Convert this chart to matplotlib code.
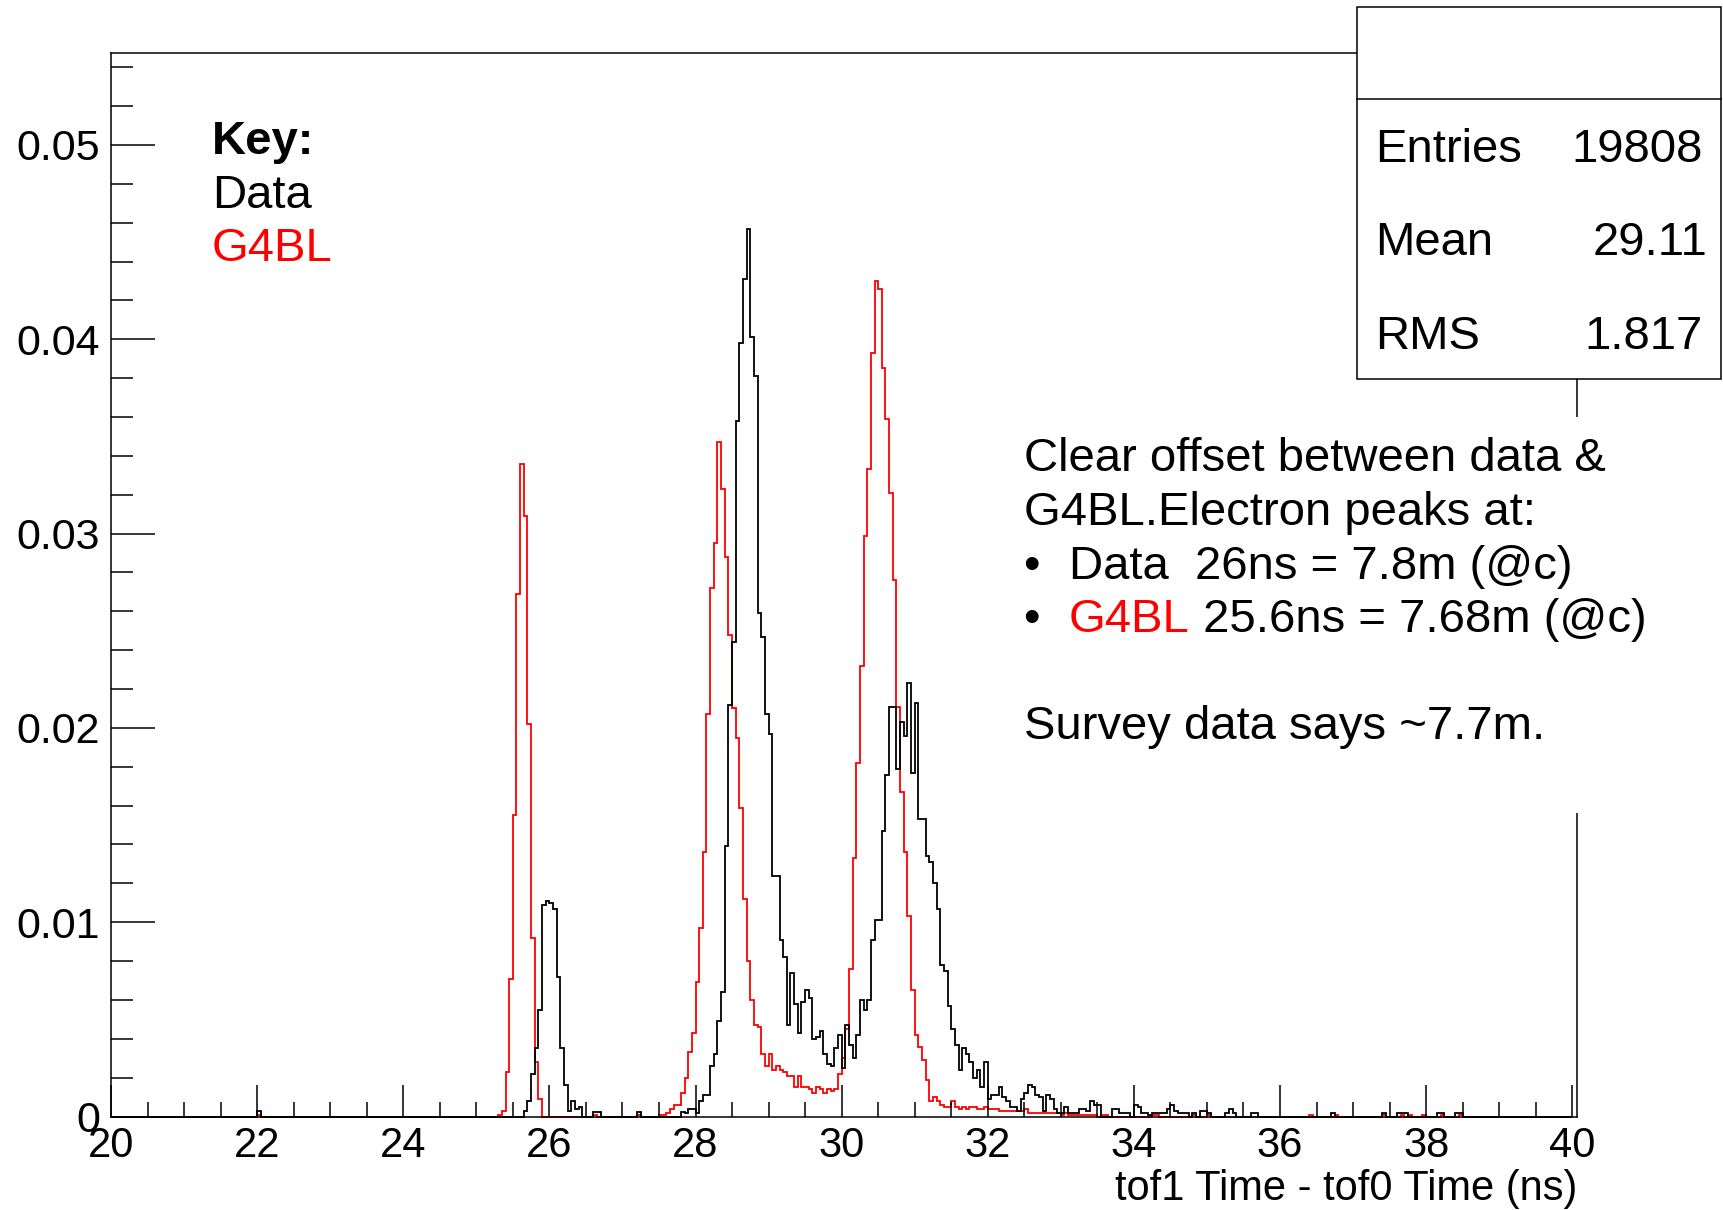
"""
tof1 - tof0 time of flight: data vs G4BL, ROOT-style histogram
"""

import numpy as np
import matplotlib
matplotlib.use('Agg')
import matplotlib.pyplot as plt
from matplotlib.patches import Rectangle
from matplotlib.ticker import MultipleLocator, FuncFormatter

plt.rcParams['font.family'] = ['Liberation Sans', 'DejaVu Sans']

W, H = 1723, 1210
BIN_WIDTH = 0.05
X_LO, X_HI = 20.0, 40.0

# ---- Data (black), bin contents, lower bin edge of first value given
data_single_bins = [22.0, 26.6, 26.65, 27.2, 36.7, 37.4, 37.6, 37.65, 37.7, 38.15, 38.2, 38.4, 38.45]
data_single_vals = [0.00026, 0.00025, 0.00025, 0.00025, 0.0002, 0.0002, 0.0002, 0.0002, 0.0002,
                    0.0002, 0.0002, 0.0002, 0.0002]

data_epeak_start = 25.65
data_epeak = [0.0003, 0.0008, 0.0022, 0.0035, 0.0055, 0.0109, 0.0111, 0.0110, 0.0107, 0.0072,
              0.0035, 0.0016, 0.0003, 0.0008, 0.0004, 0.0005]

data_main_start = 27.8
data_main = [0.00025, 0.0002, 0.0004, 0.0004, 0.0002, 0.0008, 0.0011, 0.0011, 0.0026, 0.0032,   # 27.80
             0.0049, 0.0064, 0.0139, 0.0212, 0.0244, 0.0358, 0.0398, 0.0431, 0.0457, 0.0401,   # 28.30
             0.0381, 0.0259, 0.0247, 0.0207, 0.0197, 0.0124, 0.0124, 0.0091, 0.0082, 0.0047,   # 28.80
             0.0074, 0.0058, 0.0043, 0.0059, 0.0065, 0.0061, 0.0040, 0.0041, 0.0044, 0.0032,   # 29.30
             0.0027, 0.0026, 0.0035, 0.0042, 0.0025, 0.0047, 0.0037, 0.0030, 0.0042, 0.0060,   # 29.80
             0.0055, 0.0060, 0.0091, 0.0101, 0.0101, 0.0147, 0.0176, 0.0211, 0.0211, 0.0179,   # 30.30
             0.0203, 0.0196, 0.0223, 0.0177, 0.0213, 0.0153, 0.0153, 0.0134, 0.0131, 0.0120,   # 30.80
             0.0107, 0.0078, 0.0075, 0.0057, 0.0045, 0.0037, 0.0024, 0.0035, 0.0032, 0.0028,   # 31.30
             0.0020, 0.0024, 0.0015, 0.0028, 0.0009, 0.0011, 0.0011, 0.0015, 0.0010, 0.0008,   # 31.80
             0.0005, 0.0005, 0.0003, 0.0009, 0.0012, 0.0016, 0.0015, 0.0011, 0.0010, 0.0003,   # 32.30
             0.0011, 0.0009, 0.0004, 0.0002, 0.0002, 0.0005, 0.0002, 0.0002, 0.0002, 0.0004,   # 32.80
             0.0004, 0.0003, 0.0008, 0.0006, 0.0006, 0.0, 0.0, 0.0, 0.0004, 0.0004,             # 33.30
             0.0002, 0.0002, 0.0002, 0.0, 0.0006, 0.0005, 0.0002, 0.0002, 0.0001, 0.0002,       # 33.80
             0.0002, 0.0002, 0.0002, 0.0004, 0.0006, 0.0003, 0.0002, 0.0002, 0.0002, 0.0,       # 34.30
             0.0002, 0.0, 0.0003, 0.0003, 0.0002, 0.0, 0.0, 0.0, 0.0, 0.0002,                   # 34.80
             0.0004, 0.0002, 0.0, 0.0, 0.0, 0.0, 0.0002, 0.0002]                                 # 35.30

# ---- G4BL (red)
g4bl_single_bins = [22.0, 26.6, 27.2, 34.25, 34.3, 34.8, 35.0, 36.4, 36.75, 37.4, 37.65, 37.75,
                    37.95, 38.2, 38.45]
g4bl_single_vals = [0.0001] * 15

g4bl_epeak_start = 25.3
g4bl_epeak = [0.0001, 0.0003, 0.0023, 0.0071, 0.0155, 0.0269, 0.0336, 0.0309, 0.0202, 0.0092,
              0.0028, 0.0009]

g4bl_main_start = 27.5
g4bl_main = [0.0001, 0.0001, 0.0002, 0.0004, 0.0006, 0.0006, 0.0012, 0.0020, 0.0033, 0.0043,   # 27.50
             0.0069, 0.0097, 0.0136, 0.0207, 0.0272, 0.0295, 0.0347, 0.0323, 0.0288, 0.0248,   # 28.00
             0.0210, 0.0195, 0.0159, 0.0112, 0.0080, 0.0060, 0.0047, 0.0046, 0.0032, 0.0026,   # 28.50
             0.0032, 0.0024, 0.0026, 0.0024, 0.0023, 0.0021, 0.0021, 0.0015, 0.0021, 0.0015,   # 29.00
             0.0015, 0.0014, 0.0012, 0.0015, 0.0014, 0.0012, 0.0014, 0.0013, 0.0014, 0.0022,   # 29.50
             0.0030, 0.0045, 0.0076, 0.0133, 0.0182, 0.0232, 0.0299, 0.0333, 0.0393, 0.0430,   # 30.00
             0.0426, 0.0385, 0.0359, 0.0321, 0.0276, 0.0211, 0.0167, 0.0136, 0.0103, 0.0065,   # 30.50
             0.0042, 0.0036, 0.0029, 0.0019, 0.0008, 0.0010, 0.0008, 0.0006, 0.0005, 0.0005,   # 31.00
             0.0008, 0.0005, 0.0004, 0.0005, 0.0004, 0.0005, 0.0005, 0.0004, 0.0004, 0.0005,   # 31.50
             0.0004, 0.0004, 0.0004, 0.0003, 0.0003, 0.0003, 0.0003, 0.0003, 0.0003, 0.0003,   # 32.00
             0.0004, 0.0002, 0.0002, 0.0002, 0.0002, 0.0002, 0.0002, 0.0002, 0.0002, 0.0002,   # 32.50
             0.0001, 0.0002, 0.0001, 0.0001, 0.0001, 0.0001, 0.0001, 0.0001, 0.0001, 0.0001,   # 33.00
             0.0, 0.0001, 0.0001]                                                             # 33.50

stats_labels = ['Entries', 'Mean', 'RMS']
stats_values = ['19808', '29.11', '1.817']


def fillRun(h, start, vals):
    i0 = int(round((start - X_LO) / BIN_WIDTH))
    h[i0:i0 + len(vals)] = vals


def fillSingles(h, bins, vals):
    for b, v in zip(bins, vals):
        fillRun(h, b, [v])


edges = np.linspace(X_LO, X_HI, int(round((X_HI - X_LO) / BIN_WIDTH)) + 1)
h_data = np.zeros(len(edges) - 1)
h_g4bl = np.zeros(len(edges) - 1)
fillSingles(h_data, data_single_bins, data_single_vals)
fillRun(h_data, data_epeak_start, data_epeak)
fillRun(h_data, data_main_start, data_main)
fillSingles(h_g4bl, g4bl_single_bins, g4bl_single_vals)
fillRun(h_g4bl, g4bl_epeak_start, g4bl_epeak)
fillRun(h_g4bl, g4bl_main_start, g4bl_main)


def px(x, y):
    # figure pixel (from top-left) -> figure fraction
    return x / W, 1 - y / H


fig = plt.figure(figsize=(W / 100, H / 100), dpi=100)
l, b = px(111, 1116.5)
r, t = px(1577, 52.7)
ax = fig.add_axes([l, b, r - l, t - b])

ax.stairs(h_g4bl, edges, color='red', lw=1.3, baseline=0, clip_on=False)
ax.stairs(h_data, edges, color='black', lw=1.3, baseline=0, clip_on=False)

ax.set_xlim(X_LO, 40.065)
ax.set_ylim(0, 0.05475)

ax.xaxis.set_major_locator(MultipleLocator(2))
ax.xaxis.set_minor_locator(MultipleLocator(0.5))
ax.yaxis.set_major_locator(MultipleLocator(0.01))
ax.yaxis.set_minor_locator(MultipleLocator(0.002))
ax.yaxis.set_major_formatter(FuncFormatter(lambda v, p: '0' if abs(v) < 1e-9 else '%.2f' % v))

ax.tick_params(axis='x', which='major', direction='in', length=23, width=1.1, pad=7, labelsize=30)
ax.tick_params(axis='x', which='minor', direction='in', length=11, width=1.1)
ax.tick_params(axis='y', which='major', direction='in', length=32, width=1.1, pad=8, labelsize=31)
ax.tick_params(axis='y', which='minor', direction='in', length=16, width=1.1)
for s in ax.spines.values():
    s.set_linewidth(1.1)

# x axis title
fig.text(*px(1577, 1200), 'tof1 Time - tof0 Time (ns)', fontsize=30, ha='right', va='baseline')

# key
fig.text(*px(212, 154), 'Key:', fontsize=34, fontweight='bold', va='baseline')
fig.text(*px(212, 208), 'Data', fontsize=34, va='baseline')
fig.text(*px(212, 261), 'G4BL', fontsize=34, color='red', va='baseline')

# stats box
x0, y0 = px(1357, 379)
x1, y1 = px(1721, 7)
fig.add_artist(Rectangle((x0, y0), x1 - x0, y1 - y0, transform=fig.transFigure,
                         facecolor='white', edgecolor='black', lw=1.1, zorder=2))
fig.add_artist(plt.Line2D([x0, x1], [px(0, 98.5)[1]] * 2, transform=fig.transFigure,
                          color='black', lw=1.1, zorder=2))
for lab, val, yb, xr in zip(stats_labels, stats_values, [162, 255, 349], [1703, 1707, 1703]):
    fig.text(*px(1375, yb), lab, fontsize=34, va='baseline', zorder=3)
    fig.text(*px(xr, yb), val, fontsize=34, va='baseline', ha='right', zorder=3)

# comment box (white background hides the frame behind it)
ax0, ay0 = px(1011, 813)
ax1, ay1 = px(1610, 417)
fig.add_artist(Rectangle((ax0, ay0), ax1 - ax0, ay1 - ay0, transform=fig.transFigure,
                         facecolor='white', edgecolor='none', zorder=2))
fig.text(*px(1024, 471), 'Clear offset between data &', fontsize=34, va='baseline', zorder=3)
fig.text(*px(1024, 525), 'G4BL.Electron peaks at:', fontsize=34, va='baseline', zorder=3)
fig.text(*px(1031, 579), '\u2022', fontsize=34, va='baseline', ha='center', zorder=3)
fig.text(*px(1069, 579), 'Data  26ns = 7.8m (@c)', fontsize=34, va='baseline', zorder=3)
fig.text(*px(1031, 632), '\u2022', fontsize=34, va='baseline', ha='center', zorder=3)
red = fig.text(*px(1069, 632), 'G4BL', fontsize=34, color='red', va='baseline', zorder=3)
fig.canvas.draw()
red_end = red.get_window_extent().x1 / fig.bbox.width
fig.text(red_end, px(0, 632)[1], ' 25.6ns = 7.68m (@c)', fontsize=34, va='baseline', zorder=3)
fig.text(*px(1024, 739), 'Survey data says ~7.7m.', fontsize=34, va='baseline', zorder=3)

fig.savefig('out.png', dpi=100)
